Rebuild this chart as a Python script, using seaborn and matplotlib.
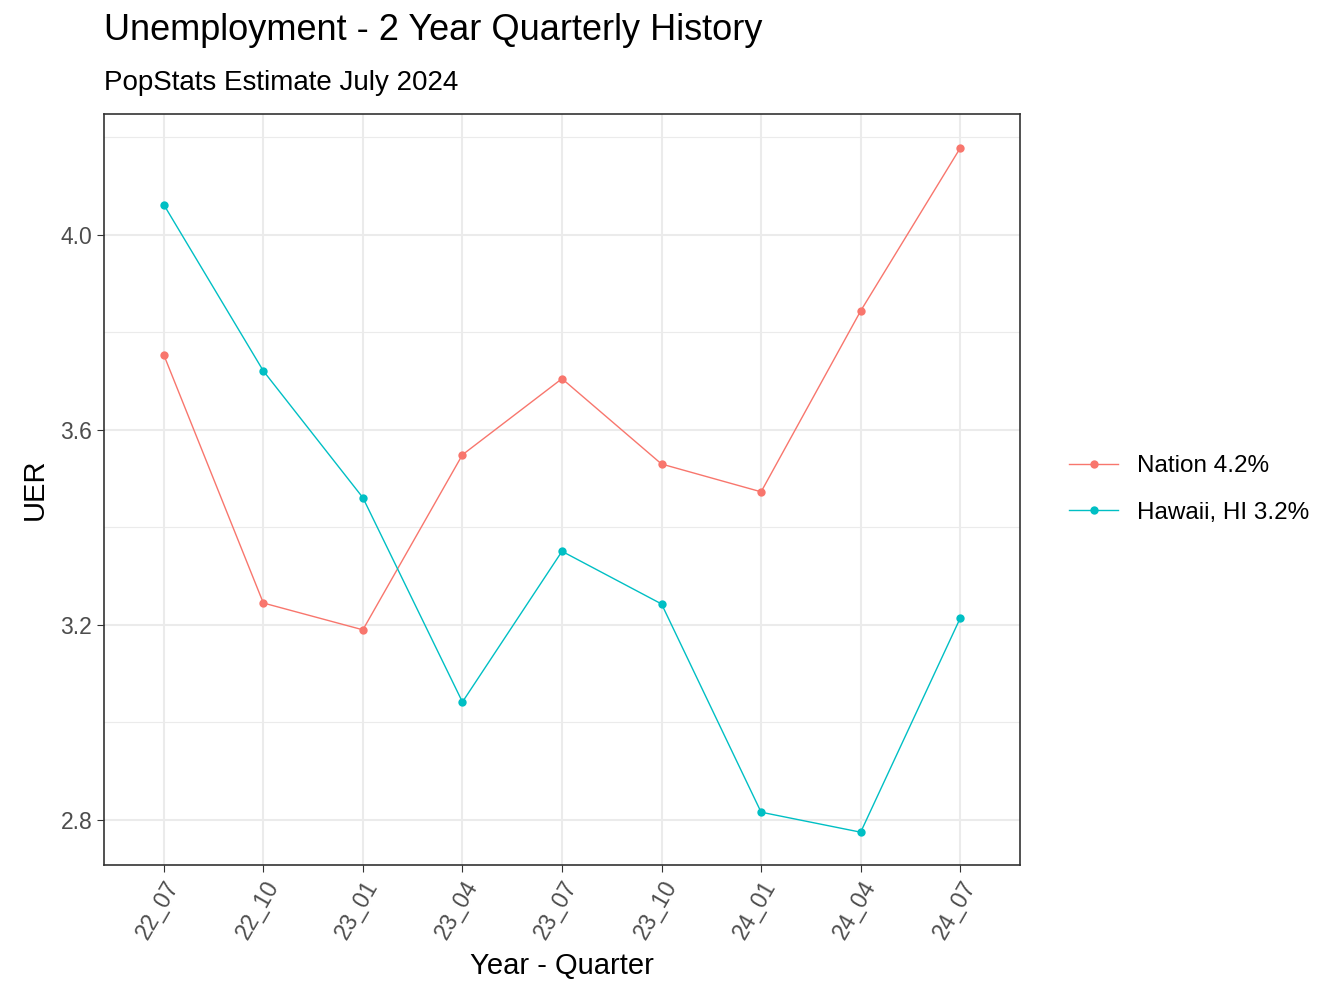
import numpy as np
import pandas as pd
import matplotlib
matplotlib.use('Agg')
import matplotlib.pyplot as plt
import seaborn as sns

#data
quarters = ['22_07', '22_10', '23_01', '23_04', '23_07', '23_10', '24_01', '24_04', '24_07']
nation = [3.754, 3.245, 3.190, 3.549, 3.705, 3.530, 3.473, 3.844, 4.178]
hawaii = [4.062, 3.721, 3.461, 3.042, 3.351, 3.243, 2.816, 2.775, 3.214]
series_names = ['Nation 4.2%', 'Hawaii, HI 3.2%']

df = pd.DataFrame({
    'x': list(range(len(quarters))) * 2,
    'UER': nation + hawaii,
    'series': [series_names[0]] * len(quarters) + [series_names[1]] * len(quarters),
})

plt.rcParams['font.family'] = 'Liberation Sans'
fig = plt.figure(figsize=(13.44, 10.08), dpi=100)
ax = fig.add_axes([0.0774, 0.142, 0.6815, 0.745])

sns.lineplot(data=df, x='x', y='UER', hue='series', palette=['#F8766D', '#00BFC4'],
             marker='o', markersize=6, markeredgewidth=0, linewidth=1, ax=ax, zorder=3)

ax.set_xlim(-0.6, 8.6)
ax.set_ylim(2.708, 4.248)
ax.set_xticks(range(len(quarters)))
ax.set_xticklabels(quarters, rotation=60, ha='right', rotation_mode='anchor', fontsize=16.5, color='#4D4D4D')
ax.set_yticks([2.8, 3.2, 3.6, 4.0])
ax.set_yticklabels(['2.8', '3.2', '3.6', '4.0'], fontsize=16.5, color='#4D4D4D')
ax.set_yticks([3.0, 3.4, 3.8, 4.2], minor=True)
ax.grid(which='major', color='#EBEBEB', linewidth=1.5)
ax.grid(which='minor', axis='y', color='#EBEBEB', linewidth=0.8)
ax.tick_params(which='minor', length=0)
ax.tick_params(which='major', length=5, color='#333333')
ax.set_axisbelow(True)
for s in ax.spines.values():
    s.set_color('#333333')
    s.set_linewidth(1.2)

ax.set_xlabel('Year - Quarter', fontsize=21, labelpad=6)
ax.set_ylabel('UER', fontsize=21, labelpad=8)

fig.text(0.0774, 0.952, 'Unemployment - 2 Year Quarterly History', fontsize=26, va='bottom')
fig.text(0.0774, 0.905, 'PopStats Estimate July 2024', fontsize=20, va='bottom')

leg = ax.legend(loc='center left', bbox_to_anchor=(1.03, 0.5), frameon=False, title=None,
                fontsize=17.5, handlelength=2, labelspacing=1.0)

fig.savefig('out.png', dpi=100)
